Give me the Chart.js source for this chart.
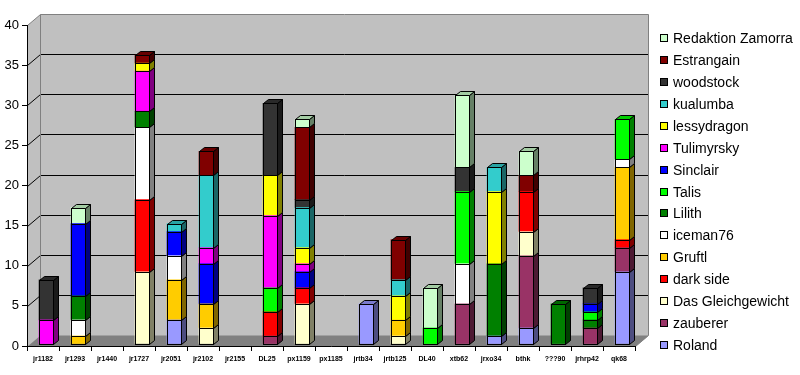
<!DOCTYPE html>
<html>
<head>
<meta charset="utf-8">
<script src="https://cdn.jsdelivr.net/npm/chart.js@4.4.1/dist/chart.umd.min.js"></script>
<style>
  html, body { margin: 0; padding: 0; background: #fff; }
</style>
</head>
<body>
<canvas id="chart" width="800" height="375"></canvas>
<script>
// Kategorien (x-Achse)
const categories = ['jr1182', 'jr1293', 'jr1440', 'jr1727', 'jr2051', 'jr2102', 'jr2155', 'DL25', 'px1159', 'px1185',
                    'jrtb34', 'jrtb125', 'DL40', 'xtb62', 'jrxo34', 'bthk', '???90', 'jrhrp42', 'qk68'];

// Werte je Serie, von unten nach oben gestapelt
const roland       = [0, 0, 0, 0, 3, 0, 0, 0, 0, 0, 5, 0, 0, 0, 1, 2, 0, 0, 9];
const zauberer     = [0, 0, 0, 0, 0, 0, 0, 1, 0, 0, 0, 0, 0, 5, 0, 9, 0, 2, 3];
const gleichgewicht = [0, 0, 0, 9, 0, 2, 0, 0, 5, 0, 0, 1, 0, 0, 0, 3, 0, 0, 0];
const darkSide     = [0, 0, 0, 9, 0, 0, 0, 3, 2, 0, 0, 0, 0, 0, 0, 5, 0, 0, 1];
const gruftl       = [0, 1, 0, 0, 5, 3, 0, 0, 0, 0, 0, 2, 0, 0, 0, 0, 0, 0, 9];
const iceman76     = [0, 2, 0, 9, 3, 0, 0, 0, 0, 0, 0, 0, 0, 5, 0, 0, 0, 0, 1];
const lilith       = [0, 3, 0, 2, 0, 0, 0, 0, 0, 0, 0, 0, 0, 0, 9, 0, 5, 1, 0];
const talis        = [0, 0, 0, 0, 0, 0, 0, 3, 0, 0, 0, 0, 2, 9, 0, 0, 0, 1, 5];
const sinclair     = [0, 9, 0, 0, 3, 5, 0, 0, 2, 0, 0, 0, 0, 0, 0, 0, 0, 1, 0];
const tulimyrsky   = [3, 0, 0, 5, 0, 2, 0, 9, 1, 0, 0, 0, 0, 0, 0, 0, 0, 0, 0];
const lessydragon  = [0, 0, 0, 1, 0, 0, 0, 5, 2, 0, 0, 3, 0, 0, 9, 0, 0, 0, 0];
const kualumba     = [0, 0, 0, 0, 1, 9, 0, 0, 5, 0, 0, 2, 0, 0, 3, 0, 0, 0, 0];
const woodstock    = [5, 0, 0, 0, 0, 0, 0, 9, 1, 0, 0, 0, 0, 3, 0, 0, 0, 2, 0];
const estrangain   = [0, 0, 0, 1, 0, 3, 0, 0, 9, 0, 0, 5, 0, 0, 0, 2, 0, 0, 0];
const redaktion    = [0, 2, 0, 0, 0, 0, 0, 0, 1, 0, 0, 0, 5, 9, 0, 3, 0, 0, 0];

const seriesNames = ['Roland', 'zauberer', 'Das Gleichgewicht', 'dark side', 'Gruftl', 'iceman76', 'Lilith', 'Talis',
                     'Sinclair', 'Tulimyrsky', 'lessydragon', 'kualumba', 'woodstock', 'Estrangain', 'Redaktion Zamorra'];
const seriesValues = [roland, zauberer, gleichgewicht, darkSide, gruftl, iceman76, lilith, talis,
                      sinclair, tulimyrsky, lessydragon, kualumba, woodstock, estrangain, redaktion];
const seriesColors = ['#9999FF', '#993366', '#FFFFCC', '#FF0000', '#FFCC00', '#FFFFFF', '#008000', '#00FF00',
                      '#0000FF', '#FF00FF', '#FFFF00', '#33CCCC', '#333333', '#800000', '#CCFFCC'];

// Achsenticks
const yTicks = [0, 5, 10, 15, 20, 25, 30, 35, 40];

// 3D-Tiefe der Wände und Balken
const WALL_DX = 13, WALL_DY = -11;
const BAR_DX = 5, BAR_DY = -4;
const BAR_SHIFT_X = 3, BAR_SHIFT_Y = -2;

function shade(hex, f) {
    const n = parseInt(hex.slice(1), 16);
    const r = Math.round(((n >> 16) & 255) * f);
    const g = Math.round(((n >> 8) & 255) * f);
    const b = Math.round((n & 255) * f);
    return `rgb(${r},${g},${b})`;
}

function poly(ctx, pts, fill, stroke) {
    ctx.beginPath();
    ctx.moveTo(pts[0][0], pts[0][1]);
    for (let i = 1; i < pts.length; i++) ctx.lineTo(pts[i][0], pts[i][1]);
    ctx.closePath();
    if (fill) { ctx.fillStyle = fill; ctx.fill(); }
    if (stroke) { ctx.strokeStyle = stroke; ctx.lineWidth = 1; ctx.stroke(); }
}

function line(ctx, pts, color) {
    ctx.beginPath();
    ctx.moveTo(pts[0][0], pts[0][1]);
    for (let i = 1; i < pts.length; i++) ctx.lineTo(pts[i][0], pts[i][1]);
    ctx.strokeStyle = color;
    ctx.lineWidth = 1;
    ctx.stroke();
}

// Wände, Boden und Gitternetz im Excel-3D-Stil
const wallsPlugin = {
    id: 'walls',
    beforeDraw(chart) {
        const ctx = chart.ctx;
        const a = chart.chartArea;
        const ys = chart.scales.y;
        const L = Math.round(a.left) + 0.5, R = Math.round(a.right) + 0.5;
        const T = Math.round(ys.getPixelForValue(40)) + 0.5;
        const B = Math.round(ys.getPixelForValue(0)) + 0.5;
        ctx.save();
        // Wandfläche (links + hinten)
        poly(ctx, [[L, T], [L + WALL_DX, T + WALL_DY], [R + WALL_DX, T + WALL_DY], [R + WALL_DX, B + WALL_DY],
                   [R, B], [L, B]], '#C0C0C0');
        // Boden
        poly(ctx, [[L, B], [L + WALL_DX, B + WALL_DY], [R + WALL_DX, B + WALL_DY], [R, B]], '#808080');
        // Gitterlinien
        yTicks.forEach(v => {
            if (v === 0 || v === 40) return;
            const y = Math.round(ys.getPixelForValue(v)) + 0.5;
            line(ctx, [[L, y], [L + WALL_DX, y + WALL_DY], [R + WALL_DX, y + WALL_DY]], '#000');
        });
        // Kanten
        line(ctx, [[L, T], [L + WALL_DX, T + WALL_DY], [R + WALL_DX, T + WALL_DY], [R + WALL_DX, B + WALL_DY], [R, B]], '#808080');
        line(ctx, [[L + WALL_DX, T + WALL_DY], [L + WALL_DX, B + WALL_DY]], '#808080');
        ctx.restore();
    },
    beforeDatasetsDraw(chart) {
        chart.ctx.save();
        chart.ctx.translate(BAR_SHIFT_X, BAR_SHIFT_Y);
    },
    afterDatasetsDraw(chart) {
        const ctx = chart.ctx;
        const n = categories.length;
        for (let i = 0; i < n; i++) {
            let topIdx = -1;
            seriesValues.forEach((vals, d) => { if (vals[i]) topIdx = d; });
            seriesValues.forEach((vals, d) => {
                if (!vals[i]) return;
                const el = chart.getDatasetMeta(d).data[i];
                const l = Math.round(el.x - el.width / 2) + 0.5;
                const r = Math.round(el.x + el.width / 2) + 0.5;
                const t = Math.round(el.y) + 0.5;
                const b = Math.round(el.base) + 0.5;
                const col = seriesColors[d];
                // Front-Umriss
                ctx.lineWidth = 1;
                ctx.strokeStyle = '#000';
                ctx.strokeRect(l, t, r - l, b - t);
                // Seitenfläche
                poly(ctx, [[r, t], [r + BAR_DX, t + BAR_DY], [r + BAR_DX, b + BAR_DY], [r, b]], shade(col, 0.5), '#000');
                // Deckfläche nur beim obersten Segment
                if (d === topIdx) {
                    poly(ctx, [[l, t], [l + BAR_DX, t + BAR_DY], [r + BAR_DX, t + BAR_DY], [r, t]], shade(col, 0.8), '#000');
                }
            });
        }
        ctx.restore();
    },
    // Legende rechts, oberste Serie zuerst
    afterDraw(chart) {
        const ctx = chart.ctx;
        ctx.save();
        ctx.font = '14px Arial, "Liberation Sans", sans-serif';
        ctx.textBaseline = 'middle';
        ctx.textAlign = 'left';
        const count = seriesNames.length;
        for (let j = 0; j < count; j++) {
            const d = count - 1 - j;
            const y = Math.round(38 + j * 21.93);
            ctx.fillStyle = seriesColors[d];
            ctx.fillRect(660, y - 4, 8, 8);
            ctx.strokeStyle = '#000';
            ctx.lineWidth = 1;
            ctx.strokeRect(660.5, y - 3.5, 7, 7);
            ctx.fillStyle = '#000';
            ctx.fillText(seriesNames[d], 673, y + 1);
        }
        ctx.restore();
    }
};

const datasets = seriesNames.map((name, d) => ({
    label: name,
    data: seriesValues[d].map(v => v || null),
    backgroundColor: seriesColors[d],
    borderWidth: 0,
    barThickness: 14,
    stack: 'all'
}));

new Chart(document.getElementById('chart'), {
    type: 'bar',
    data: { labels: categories, datasets: datasets },
    options: {
        responsive: false,
        animation: false,
        layout: { padding: { left: 0, right: 165, top: 25, bottom: 0 } },
        plugins: {
            legend: { display: false },
            tooltip: { enabled: false }
        },
        scales: {
            x: {
                stacked: true,
                afterFit: s => { s.height = 29; },
                grid: { drawOnChartArea: false, drawTicks: true, tickLength: 5, color: '#000', offset: true },
                border: { display: true, color: '#000', width: 1 },
                ticks: {
                    color: '#000',
                    autoSkip: false,
                    maxRotation: 0,
                    padding: 4,
                    font: { family: 'Arial, "Liberation Sans", sans-serif', size: 7, weight: 'bold' }
                }
            },
            y: {
                stacked: true,
                min: 0,
                max: 40,
                afterFit: s => { s.width = 27; },
                afterBuildTicks: s => { s.ticks = yTicks.map(v => ({ value: v })); },
                grid: { drawOnChartArea: false, drawTicks: true, tickLength: 5, color: '#000' },
                border: { display: true, color: '#000', width: 1 },
                ticks: {
                    color: '#000',
                    padding: 3,
                    font: { family: 'Arial, "Liberation Sans", sans-serif', size: 13 }
                }
            }
        }
    },
    plugins: [wallsPlugin]
});
</script>
</body>
</html>
